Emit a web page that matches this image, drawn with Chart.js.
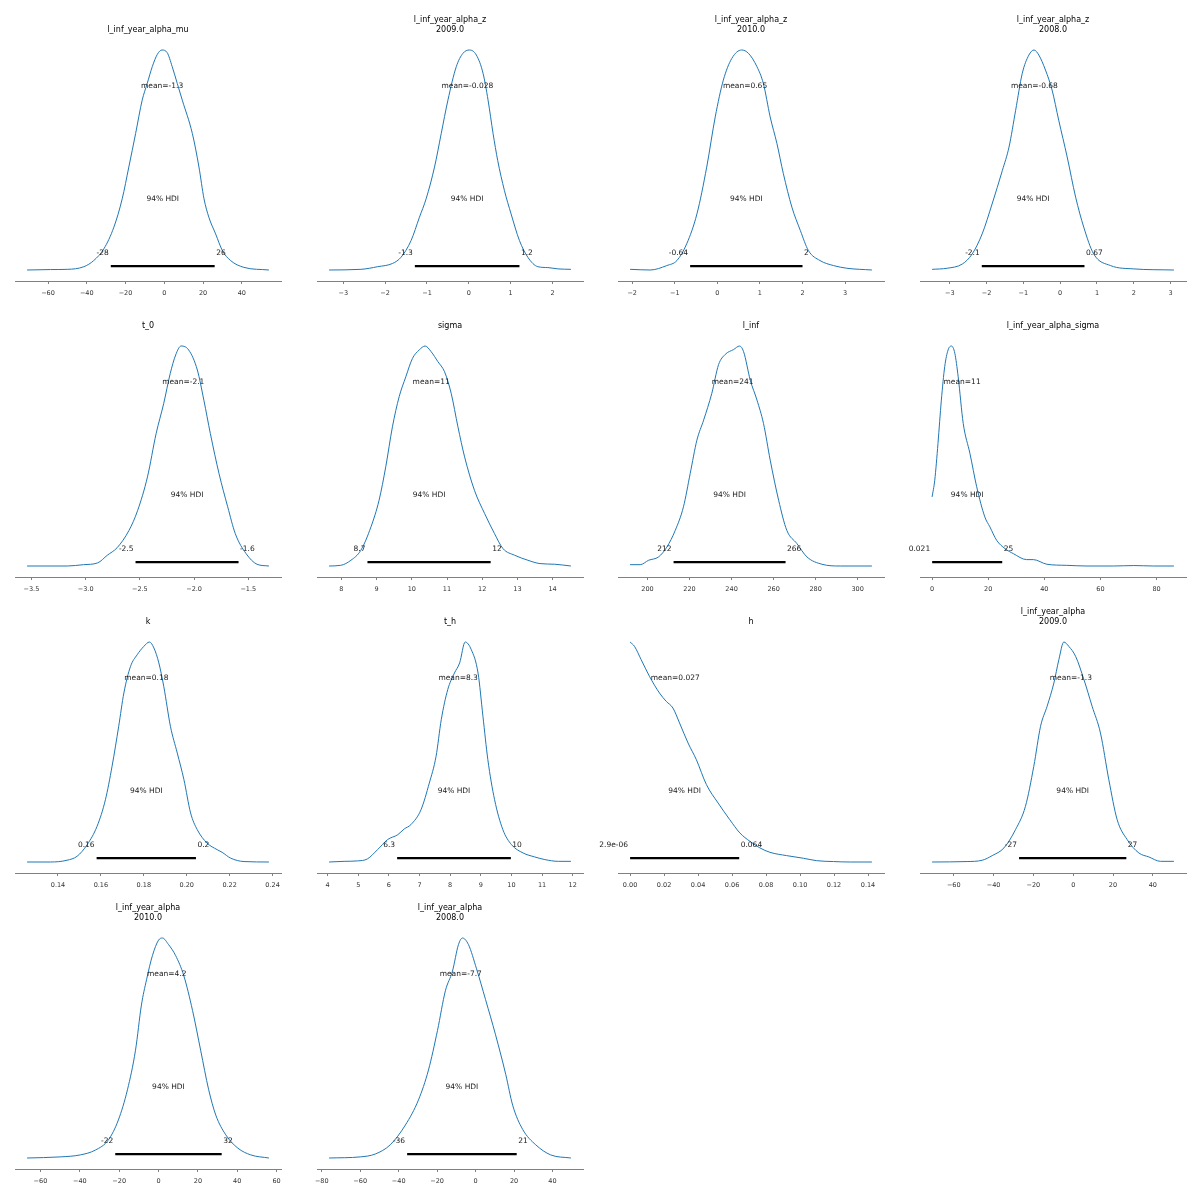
<!DOCTYPE html>
<html><head><meta charset="utf-8">
<script src="https://cdn.jsdelivr.net/npm/chart.js@4.4.1/dist/chart.umd.min.js"></script>
<style>
html,body{margin:0;padding:0;background:#fff;}
#wrap{position:relative;width:1200px;height:1200px;background:#fff;overflow:hidden;}
.panel{position:absolute;}
</style></head>
<body><div id="wrap"></div>
<script>
// ---------------- data ----------------
const panelTitles = [
  ["l_inf_year_alpha_mu"], ["l_inf_year_alpha_z","2009.0"], ["l_inf_year_alpha_z","2010.0"], ["l_inf_year_alpha_z","2008.0"],
  ["t_0"], ["sigma"], ["l_inf"], ["l_inf_year_alpha_sigma"],
  ["k"], ["t_h"], ["h"], ["l_inf_year_alpha","2009.0"],
  ["l_inf_year_alpha","2010.0"], ["l_inf_year_alpha","2008.0"]
];

const alphaMuX = [-70.8,-58.7,-50.1,-41.5,-36.4,-31.2,-26.0,-21.7,-18.3,-14.8,-11.4,-8.8,-6.2,-3.6,-1.2,1.5,4.1,6.7,9.3,14.5,17.9,20.5,23.0,26.5,30.0,34.2,41.1,54.0];
const alphaMuD = [0,0.002,0.003,0.015,0.043,0.096,0.195,0.324,0.468,0.62,0.772,0.848,0.924,0.98,1.0,0.988,0.924,0.848,0.772,0.62,0.468,0.324,0.24,0.164,0.088,0.043,0.012,0];

const z2009X = [-3.34,-2.58,-2.18,-1.82,-1.62,-1.38,-1.18,-1.02,-0.82,-0.66,-0.50,-0.30,-0.14,0.016,0.18,0.34,0.46,0.58,0.69,0.85,1.01,1.21,1.41,1.65,1.89,2.13,2.44];
const z2009D = [0,0.003,0.015,0.03,0.058,0.134,0.24,0.324,0.468,0.62,0.772,0.924,0.985,1.0,0.977,0.894,0.772,0.62,0.498,0.362,0.255,0.134,0.058,0.015,0.011,0.005,0.003];

const z2010X = [-2.05,-1.58,-1.19,-0.95,-0.72,-0.48,-0.25,-0.05,0.14,0.34,0.57,0.73,0.93,1.08,1.24,1.40,1.55,1.75,1.95,2.14,2.41,2.73,3.04,3.63];
const z2010D = [0.003,0,0.02,0.043,0.119,0.255,0.468,0.696,0.863,0.962,1.0,0.985,0.924,0.848,0.696,0.574,0.438,0.286,0.179,0.088,0.043,0.02,0.008,0];

const z2008X = [-3.48,-3.07,-2.66,-2.39,-2.12,-1.85,-1.57,-1.39,-1.21,-1.03,-0.85,-0.71,-0.58,-0.40,-0.22,-0.04,0.19,0.42,0.64,0.91,1.37,2.00,3.09];
const z2008D = [0.003,0.008,0.027,0.073,0.164,0.3,0.453,0.559,0.726,0.894,0.977,1.0,0.977,0.909,0.818,0.681,0.514,0.331,0.195,0.073,0.02,0.005,0];

const t0X = [-3.54,-3.32,-3.17,-3.02,-2.89,-2.80,-2.71,-2.60,-2.52,-2.43,-2.35,-2.28,-2.22,-2.17,-2.12,-2.05,-1.97,-1.91,-1.85,-1.77,-1.69,-1.62,-1.52,-1.42,-1.31];
const t0D = [0,0,0,0.006,0.014,0.049,0.083,0.162,0.253,0.405,0.602,0.739,0.875,0.959,1.0,0.982,0.891,0.754,0.602,0.42,0.269,0.147,0.056,0.008,0];

const sigmaX = [7.65,7.98,8.27,8.55,8.84,9.07,9.26,9.45,9.64,9.83,10.02,10.21,10.38,10.55,10.74,10.93,11.12,11.31,11.50,11.78,12.07,12.35,12.59,12.92,13.30,13.64,14.06,14.52];
const sigmaD = [0,0.003,0.026,0.071,0.178,0.299,0.451,0.633,0.769,0.86,0.944,0.982,1.0,0.974,0.929,0.883,0.784,0.633,0.496,0.344,0.238,0.147,0.079,0.049,0.026,0.011,0.008,0];

const linfX = [191.7,196.5,200.5,205.2,209.2,213.2,217.1,220.3,223.5,226.7,230.6,233.8,237.0,241.0,243.8,245.7,248.9,252.1,255.2,258.4,262.4,266.3,271.1,275.9,283.0,291.7,306.8];
const linfD = [0.006,0.006,0.026,0.041,0.086,0.162,0.269,0.42,0.572,0.663,0.785,0.915,0.962,0.984,1.0,0.975,0.845,0.754,0.648,0.481,0.299,0.162,0.102,0.041,0.008,0,0];

const alphaSigX = [0,0.95,2.1,3.3,4.5,5.7,6.9,8.1,9.3,11.1,13.5,15.9,18.8,20.6,23.0,26.0,29.0,33.7,36.1,40.9,48.0,55.2,64.7,71.9,79.0,86.2];
const alphaSigD = [0.314,0.39,0.557,0.754,0.906,0.982,1.0,0.967,0.86,0.648,0.511,0.36,0.223,0.178,0.117,0.079,0.056,0.029,0.029,0.008,0.003,0,0,0.002,0,0];

const kX = [0.1256,0.1365,0.1442,0.1489,0.1536,0.1582,0.1621,0.1652,0.1683,0.1707,0.1738,0.1769,0.1800,0.1826,0.1847,0.1870,0.1893,0.1924,0.1956,0.1987,0.2018,0.2049,0.2095,0.2142,0.2165,0.2204,0.2267,0.2383];
const kD = [0,0,0.008,0.026,0.079,0.162,0.283,0.435,0.617,0.768,0.889,0.942,0.98,1.0,0.973,0.905,0.798,0.617,0.495,0.374,0.223,0.147,0.086,0.056,0.044,0.018,0.002,0];

const thX = [4.05,4.54,4.98,5.30,5.63,5.96,6.29,6.50,6.72,7.05,7.32,7.54,7.71,7.92,8.14,8.31,8.49,8.69,8.91,9.07,9.23,9.45,9.72,10.0,10.38,10.76,11.09,11.53,11.94];
const thD = [0,0.003,0.005,0.014,0.056,0.102,0.124,0.15,0.17,0.238,0.359,0.48,0.647,0.783,0.859,0.905,1.0,0.965,0.859,0.662,0.465,0.283,0.147,0.079,0.041,0.023,0.011,0.003,0.003];

const hX = [0,0.0026,0.0065,0.0114,0.0173,0.0213,0.0252,0.0291,0.0341,0.0390,0.0449,0.0518,0.0587,0.0646,0.0705,0.0764,0.0823,0.0921,0.1020,0.1098,0.1197,0.1295,0.1423];
const hD = [1.0,0.98,0.92,0.844,0.768,0.73,0.7,0.632,0.541,0.465,0.352,0.268,0.192,0.132,0.094,0.064,0.044,0.029,0.017,0.006,0.002,0,0];

const a2009X = [-70.9,-53.3,-45.7,-40.7,-34.8,-29.0,-24.0,-19.8,-16.4,-13.1,-9.7,-7.2,-4.7,-2.2,1.2,5.4,9.5,13.7,17.9,22.1,27.1,33.0,38.0,43.9,50.6];
const a2009D = [0,0.002,0.008,0.029,0.064,0.147,0.253,0.435,0.617,0.708,0.814,0.92,1.0,0.98,0.935,0.829,0.708,0.586,0.374,0.192,0.102,0.041,0.023,0.003,0.003];

const a2010X = [-66.8,-50,-39.8,-32.1,-25.5,-20.4,-15.8,-11.7,-8.7,-6.1,-3.1,0,2.0,5.1,8.7,12.8,17.3,21.4,25.5,29.1,34.2,40.3,46.9,56.1];
const a2010D = [0,0.005,0.014,0.036,0.082,0.173,0.31,0.49,0.695,0.81,0.92,0.99,1.0,0.97,0.92,0.83,0.67,0.49,0.31,0.195,0.105,0.045,0.014,0];

const a2008X = [-76.2,-60,-52.2,-44.4,-36.5,-29.7,-24.5,-19.8,-15.7,-12.0,-8.9,-6.8,-3.7,0.5,5.2,10.4,15.7,19.3,24.5,31.3,39.1,49.6];
const a2008D = [0,0.005,0.018,0.06,0.15,0.264,0.4,0.58,0.76,0.85,0.97,1.0,0.97,0.86,0.72,0.56,0.38,0.24,0.13,0.06,0.014,0];

const curveX = [alphaMuX,z2009X,z2010X,z2008X,t0X,sigmaX,linfX,alphaSigX,kX,thX,hX,a2009X,a2010X,a2008X];
const curveD = [alphaMuD,z2009D,z2010D,z2008D,t0D,sigmaD,linfD,alphaSigD,kD,thD,hD,a2009D,a2010D,a2008D];

const meanVals  = [-1.1,-0.035,0.65,-0.70,-2.1,10.55,240.5,10.7,0.1812,8.26,0.0266,-1.2,4.2,-7.7];
const meanTexts = ["-1.3","-0.028","0.65","-0.68","-2.1","11","241","11","0.18","8.3","0.027","-1.3","4.2","-7.7"];
const hdiLow     = [-27.6,-1.29,-0.64,-2.13,-2.54,8.74,212.4,0.021,0.158,6.27,0.0000029,-27.2,-22.0,-35.6];
const hdiHigh    = [26.0,1.21,2.0,0.66,-1.59,12.24,265.7,25.0,0.2043,9.98,0.0642,26.7,32.1,21.4];
const hdiLowTxt  = ["-28","-1.3","-0.64","-2.1","-2.5","8.7","212","0.021","0.16","6.3","2.9e-06","-27","-22","-36"];
const hdiHighTxt = ["26","1.2","2","0.67","-1.6","12","266","25","0.2","10","0.064","27","32","21"];
const hdiLabel = "94% HDI";

const tickVals = [
  [-60,-40,-20,0,20,40], [-3,-2,-1,0,1,2], [-2,-1,0,1,2,3], [-3,-2,-1,0,1,2,3],
  [-3.5,-3.0,-2.5,-2.0,-1.5], [8,9,10,11,12,13,14], [200,220,240,260,280,300], [0,20,40,60,80],
  [0.14,0.16,0.18,0.20,0.22,0.24], [4,5,6,7,8,9,10,11,12], [0,0.02,0.04,0.06,0.08,0.10,0.12,0.14], [-60,-40,-20,0,20,40],
  [-60,-40,-20,0,20,40,60], [-80,-60,-40,-20,0,20,40]
];
const tickLabels = [
  ["\u221260","\u221240","\u221220","0","20","40"],
  ["\u22123","\u22122","\u22121","0","1","2"],
  ["\u22122","\u22121","0","1","2","3"],
  ["\u22123","\u22122","\u22121","0","1","2","3"],
  ["\u22123.5","\u22123.0","\u22122.5","\u22122.0","\u22121.5"],
  ["8","9","10","11","12","13","14"],
  ["200","220","240","260","280","300"],
  ["0","20","40","60","80"],
  ["0.14","0.16","0.18","0.20","0.22","0.24"],
  ["4","5","6","7","8","9","10","11","12"],
  ["0.00","0.02","0.04","0.06","0.08","0.10","0.12","0.14"],
  ["\u221260","\u221240","\u221220","0","20","40"],
  ["\u221260","\u221240","\u221220","0","20","40","60"],
  ["\u221280","\u221260","\u221240","\u221220","0","20","40"]
];

// ---------------- layout ----------------
const colLeft = [15, 317, 618, 920];
const rowTop = [39, 335, 631, 927];
const AXW = 266, AXH = 242;
const PADL = 45, PADR = 45, PADT = 40, XH = 24;
const FONT = '"DejaVu Sans", "Liberation Sans", sans-serif';

Chart.defaults.font.family = FONT;

const wrap = document.getElementById('wrap');

for (let i = 0; i < curveX.length; i++) {
  const col = i % 4, row = Math.floor(i / 4);
  const div = document.createElement('div');
  div.className = 'panel';
  const W = AXW + PADL + PADR, H = AXH + PADT + XH;
  div.style.left = (colLeft[col] - PADL) + 'px';
  div.style.top = (rowTop[row] - PADT) + 'px';
  div.style.width = W + 'px';
  div.style.height = H + 'px';
  const cv = document.createElement('canvas');
  cv.width = W; cv.height = H;
  cv.style.width = W + 'px'; cv.style.height = H + 'px';
  div.appendChild(cv);
  wrap.appendChild(div);

  const xs = curveX[i], ds = curveD[i];
  const lo = xs[0], hi = xs[xs.length - 1];
  const span = hi - lo;
  const curve = xs.map((v, k) => ({x: v, y: ds[k]}));
  const hdiLine = [{x: hdiLow[i], y: 0.018}, {x: hdiHigh[i], y: 0.018}];

  const annot = {
    id: 'annot' + i,
    afterDatasetsDraw(chart) {
      const {ctx, chartArea} = chart;
      const x = chart.scales.x, y = chart.scales.y;
      ctx.save();
      ctx.fillStyle = '#1a1a1a';
      ctx.textBaseline = 'alphabetic';
      ctx.font = '7.5px ' + FONT;
      ctx.textAlign = 'center';
      ctx.fillText('mean=' + meanTexts[i], x.getPixelForValue(meanVals[i]), y.getPixelForValue(0.828));
      ctx.fillText(hdiLabel, x.getPixelForValue((hdiLow[i] + hdiHigh[i]) / 2), y.getPixelForValue(0.312));
      ctx.textAlign = 'right';
      ctx.fillText(hdiLowTxt[i], x.getPixelForValue(hdiLow[i]) - 2, y.getPixelForValue(0.068));
      ctx.textAlign = 'left';
      ctx.fillText(hdiHighTxt[i], x.getPixelForValue(hdiHigh[i]) + 1.5, y.getPixelForValue(0.068));
      // title
      ctx.fillStyle = '#000';
      ctx.font = '8px ' + FONT;
      ctx.textAlign = 'center';
      const cx = (chartArea.left + chartArea.right) / 2;
      const lines = panelTitles[i];
      for (let k = 0; k < lines.length; k++) {
        ctx.fillText(lines[k], cx, chartArea.top - 7.5 - (lines.length - 1 - k) * 9.5);
      }
      ctx.restore();
    }
  };

  new Chart(cv, {
    type: 'line',
    data: {
      datasets: [
        {data: hdiLine, borderColor: '#000', borderWidth: 2.2, borderCapStyle: 'butt', pointRadius: 0, tension: 0, order: 0},
        {data: curve, borderColor: '#1f77b4', borderWidth: 1, pointRadius: 0, fill: false, cubicInterpolationMode: 'monotone', order: 1}
      ]
    },
    options: {
      responsive: false,
      animation: false,
      devicePixelRatio: 1,
      layout: {padding: {left: PADL, right: PADR, top: PADT, bottom: 0}},
      plugins: {legend: {display: false}, tooltip: {enabled: false}, title: {display: false}},
      scales: {
        x: {
          type: 'linear',
          min: lo - 0.05 * span,
          max: hi + 0.05 * span,
          afterBuildTicks: (s) => { s.ticks = tickVals[i].map(v => ({value: v})); },
          afterFit: (s) => { s.height = XH; },
          ticks: {
            autoSkip: false, maxRotation: 0, minRotation: 0,
            padding: 5.5,
            color: '#333',
            font: {size: 6.5, family: FONT},
            callback: (v, idx) => tickLabels[i][idx]
          },
          grid: {display: true, drawOnChartArea: false, drawTicks: true, tickLength: 3, color: '#808080', lineWidth: 1},
          border: {display: true, color: '#808080', width: 1}
        },
        y: {display: false, min: -0.05, max: 1.05}
      }
    },
    plugins: [annot]
  });
}
</script>
</body></html>
